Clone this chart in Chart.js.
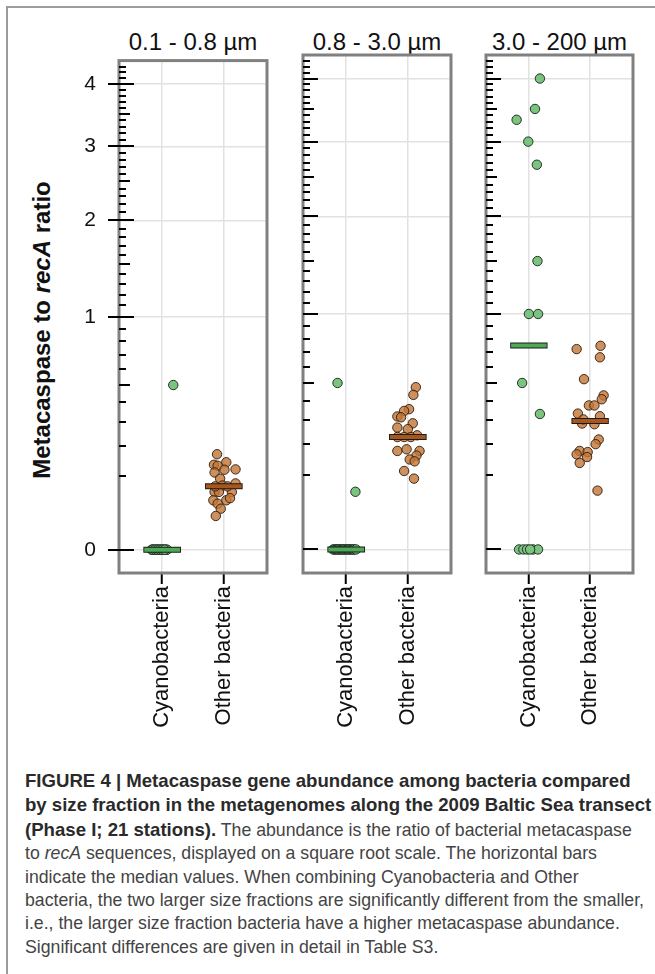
<!DOCTYPE html>
<html>
<head>
<meta charset="utf-8">
<script src="https://cdn.jsdelivr.net/npm/chart.js@4.4.0/dist/chart.umd.min.js"></script>
<style>
  body { margin: 0; width: 655px; height: 974px; overflow: hidden; position: relative; background: #fff; font-family: "Liberation Sans", Arial, sans-serif; }
  .frame { position: absolute; left: 6px; top: 6px; width: 700px; height: 1000px; border-left: 2px solid #9c9c9c; border-top: 2px solid #9c9c9c; }
  .ptitle { position: absolute; top: 28px; width: 200px; text-align: center; font-size: 24px; line-height: 28px; color: #111; }
  .panel { position: absolute; top: 25px; }
  .ytitle { position: absolute; left: -158px; top: 316px; width: 400px; height: 28px; line-height: 28px; text-align: center; transform: rotate(-90deg); font-size: 24px; font-weight: bold; color: #111; }
  .caption { position: absolute; left: 25px; top: 769px; line-height: 23.4px; white-space: nowrap; color: #444; font-size: 17.7px; }
  .caption b { color: #2a2a2a; font-size: 18.6px; }
</style>
</head>
<body>
<div class="frame"></div>
<div class="ytitle">Metacaspase to <i>recA</i> ratio</div>
<div id="titles"></div>
<div id="panels"></div>
<div class="caption">
  <div><b>FIGURE 4 | Metacaspase gene abundance among bacteria compared</b></div>
  <div><b>by size fraction in the metagenomes along the 2009 Baltic Sea transect</b></div>
  <div><b>(Phase I; 21 stations).</b> The abundance is the ratio of bacterial metacaspase</div>
  <div>to <i>recA</i> sequences, displayed on a square root scale. The horizontal bars</div>
  <div>indicate the median values. When combining Cyanobacteria and Other</div>
  <div>bacteria, the two larger size fractions are significantly different from the smaller,</div>
  <div>i.e., the larger size fraction bacteria have a higher metacaspase abundance.</div>
  <div>Significant differences are given in detail in Table S3.</div>
</div>

<script>
// Data (metacaspase : recA ratio) + horizontal jitter in category units
const panelTitles = ['0.1 - 0.8 µm', '0.8 - 3.0 µm', '3.0 - 200 µm'];
const groups = ['Cyanobacteria', 'Other bacteria'];
const yMajorTicks = [0, 1, 2, 3, 4];

const cyanoSmall = [0.5, 0, 0, 0, 0, 0, 0, 0, 0, 0, 0, 0, 0, 0, 0, 0, 0, 0, 0, 0, 0];
const cyanoSmallJitter = [0.18, -0.17, -0.15, -0.13, -0.11, -0.09, -0.07, -0.05, -0.03, -0.01, 0.01, 0.03, 0.05, 0.07, 0.08, -0.16, -0.12, -0.08, -0.04, 0.0, 0.04];
const otherSmall = [0.168, 0.133, 0.141, 0.130, 0.119, 0.110, 0.118, 0.093, 0.076, 0.081, 0.0615, 0.0615, 0.0615, 0.045, 0.045, 0.049, 0.039, 0.031, 0.021, 0.074, 0.074];
const otherSmallJitter = [-0.11, -0.16, 0.04, -0.10, 0.19, -0.15, 0.01, -0.06, -0.02, 0.19, -0.15, -0.08, 0.13, -0.17, 0.04, 0.10, -0.10, -0.05, -0.13, -0.14, 0.06];

const cyanoMid = [0.5, 0.060, 0, 0, 0, 0, 0, 0, 0, 0, 0, 0, 0, 0, 0, 0, 0, 0, 0, 0, 0];
const cyanoMidJitter = [-0.14, 0.15, -0.21, -0.19, -0.17, -0.15, -0.13, -0.11, -0.09, -0.07, -0.05, -0.03, -0.01, 0.01, 0.03, 0.05, 0.07, 0.09, 0.11, 0.13, 0.16];
const otherMid = [0.475, 0.431, 0.355, 0.346, 0.319, 0.315, 0.287, 0.268, 0.261, 0.235, 0.228, 0.228, 0.228, 0.175, 0.181, 0.175, 0.159, 0.146, 0.140, 0.111, 0.0905];
const otherMidJitter = [0.13, 0.09, 0.02, -0.06, -0.17, -0.11, 0.08, -0.17, 0.0, 0.15, -0.17, -0.06, 0.05, -0.17, -0.02, 0.19, 0.14, 0.03, 0.11, -0.06, 0.10];

const cyanoLarge = [4.0, 3.5, 3.33, 3.0, 2.67, 1.5, 1.0, 1.0, 0.5, 0.331, 0, 0, 0, 0, 0, 0];
const cyanoLargeJitter = [0.18, 0.10, -0.20, -0.01, 0.13, 0.14, 0.0, 0.15, -0.11, 0.18, -0.16, -0.09, -0.03, 0.07, 0.15, 0.02];
const otherLarge = [0.748, 0.724, 0.666, 0.523, 0.428, 0.407, 0.374, 0.374, 0.333, 0.320, 0.286, 0.283, 0.218, 0.200, 0.175, 0.171, 0.163, 0.154, 0.135, 0.0624, 0.305];
const otherLargeJitter = [0.17, -0.22, 0.16, -0.10, 0.22, 0.19, -0.02, 0.07, -0.20, 0.16, -0.13, 0.07, 0.14, 0.09, -0.17, -0.04, -0.22, -0.05, -0.17, 0.12, -0.11];

const cyanoMedians = [0, 0, 0.75];
const otherMedians = [0.074, 0.228, 0.298];

// Layout of the three facets (plot frame in page pixels)
const facets = [
  { left: 119, width: 148, axisW: 64, cyano: [cyanoSmall, cyanoSmallJitter], other: [otherSmall, otherSmallJitter] },
  { left: 303, width: 148, axisW: 12, cyano: [cyanoMid, cyanoMidJitter], other: [otherMid, otherMidJitter] },
  { left: 486, width: 147, axisW: 12, cyano: [cyanoLarge, cyanoLargeJitter], other: [otherLarge, otherLargeJitter] }
];
const PAD_TOP = 30, PLOT_H = 518, XAXIS_H = 170, PAD_RIGHT = 10;
const GREEN = '#7bc47e', GREEN_BAR = '#4ea957';
const BROWN = 'rgba(194,118,52,0.8)', BROWN_BAR = '#a9561c';

const toSqrt = v => Math.sqrt(v);

// minor ticks every 0.1 on the ratio scale (drawn inside the frame)
const minorTicks = [];
for (let k = 1; k <= 43; k++) if (k % 10 !== 0) minorTicks.push(k / 10);

const frameTicks = {
  id: 'frameTicks',
  afterDraw: (chart, args, opts) => {
    const { ctx, chartArea: a, scales: { y } } = chart;
    ctx.save();
    ctx.strokeStyle = '#808080';
    ctx.lineWidth = 3;
    ctx.strokeRect(a.left, a.top, a.right - a.left, a.bottom - a.top);

    ctx.strokeStyle = '#000';
    ctx.lineWidth = 2;
    minorTicks.forEach(r => {
      const py = Math.round(y.getPixelForValue(toSqrt(r)));
      if (py < a.top + 2) return;
      const len = Math.round(r * 10) % 5 === 0 ? 11 : 7;
      ctx.beginPath(); ctx.moveTo(a.left, py); ctx.lineTo(a.left + len, py); ctx.stroke();
    });
    yMajorTicks.forEach(r => {
      const py = Math.round(y.getPixelForValue(toSqrt(r)));
      ctx.beginPath(); ctx.moveTo(a.left - (opts.outer || 0), py); ctx.lineTo(a.left + 15, py); ctx.stroke();
    });
    ctx.restore();
  }
};

const pointSet = (vals, jit, cat, fill, border) => ({
  type: 'scatter',
  data: vals.map((v, i) => ({ x: cat + jit[i], y: toSqrt(v) })),
  backgroundColor: fill,
  borderColor: border,
  borderWidth: 1,
  pointRadius: 4.7,
  order: 2
});

const medianSet = (m, cat, color, width, half) => ({
  type: 'line',
  data: [{ x: cat - half, y: toSqrt(m) }, { x: cat + half, y: toSqrt(m) }],
  borderColor: color,
  borderWidth: width,
  borderCapStyle: 'butt',
  pointRadius: 0,
  showLine: true,
  order: width > 4 ? 1 : 0
});

facets.forEach((f, idx) => {
  // 1. Panel title
  const t = document.createElement('div');
  t.className = 'ptitle';
  t.style.left = (f.left + f.width / 2 - 100) + 'px';
  t.textContent = panelTitles[idx];
  document.getElementById('titles').appendChild(t);

  // 2. Canvas, placed so the plot area lands on the frame
  const wrap = document.createElement('div');
  wrap.className = 'panel';
  wrap.style.left = (f.left - f.axisW) + 'px';
  const cv = document.createElement('canvas');
  cv.width = f.axisW + f.width + PAD_RIGHT;
  cv.height = PAD_TOP + PLOT_H + XAXIS_H;
  wrap.appendChild(cv);
  document.getElementById('panels').appendChild(wrap);

  const first = idx === 0;
  new Chart(cv, {
    type: 'scatter',
    data: {
      datasets: [
        medianSet(cyanoMedians[idx], 1, '#1a1a1a', 6, 0.305),
        medianSet(cyanoMedians[idx], 1, GREEN_BAR, 4, 0.29),
        medianSet(otherMedians[idx], 2, '#1a1a1a', 6, 0.305),
        medianSet(otherMedians[idx], 2, BROWN_BAR, 4, 0.29),
        pointSet(f.cyano[0], f.cyano[1], 1, GREEN, '#23302a'),
        pointSet(f.other[0], f.other[1], 2, BROWN, 'rgba(45,28,15,0.9)')
      ]
    },
    options: {
      responsive: false,
      animation: false,
      layout: { padding: { top: PAD_TOP, right: PAD_RIGHT, left: 0, bottom: 0 } },
      plugins: { legend: { display: false }, tooltip: { enabled: false }, frameTicks: { outer: first ? 11 : 0 } },
      scales: {
        x: {
          type: 'linear', min: 0.3, max: 2.7,
          afterBuildTicks: s => { s.ticks = [{ value: 1 }, { value: 2 }]; },
          afterFit: s => { s.height = XAXIS_H; },
          border: { display: false },
          grid: { color: '#e2e2e2', lineWidth: 1.5, drawTicks: true, tickLength: 11, tickColor: '#000', tickWidth: 2 },
          ticks: {
            autoSkip: false, minRotation: 90, maxRotation: 90, padding: 2, color: '#111',
            font: { family: '"Liberation Sans", Arial, sans-serif', size: 22 },
            callback: v => groups[v - 1]
          }
        },
        y: {
          type: 'linear', min: -0.1, max: 2.1,
          afterBuildTicks: s => { s.ticks = yMajorTicks.map(r => ({ value: toSqrt(r) })); },
          afterFit: s => { s.width = f.axisW; },
          border: { display: false },
          grid: { color: '#e2e2e2', lineWidth: 1.5, drawTicks: false },
          ticks: {
            display: first, autoSkip: false, padding: 23, color: '#111',
            font: { family: '"Liberation Sans", Arial, sans-serif', size: 21 },
            callback: (v, i) => String(yMajorTicks[i])
          }
        }
      }
    },
    plugins: [frameTicks]
  });
});
</script>
</body>
</html>
